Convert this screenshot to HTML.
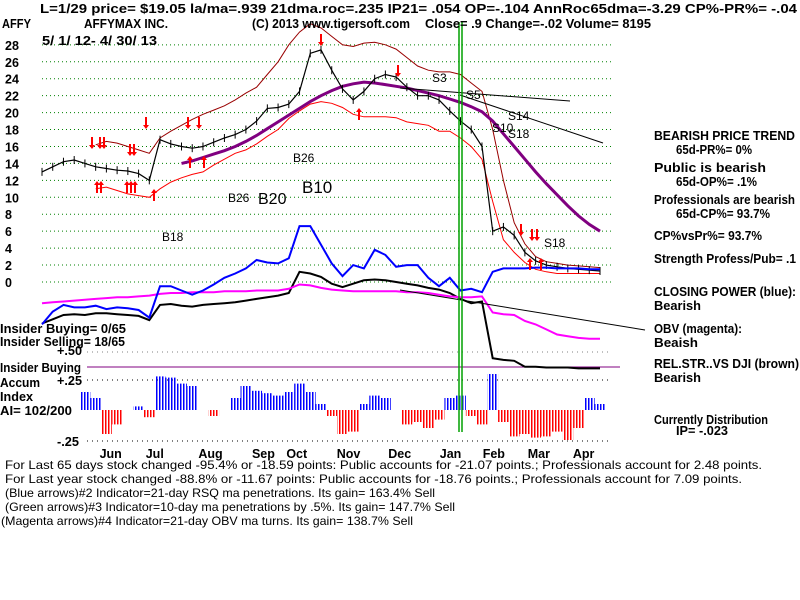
<!DOCTYPE html>
<html><head><meta charset="utf-8"><style>
html,body{margin:0;padding:0;background:#fff;}
svg{display:block;font-family:"Liberation Sans",sans-serif;}
.b{font-weight:bold;font-size:12.5px;fill:#000;}
.n{font-size:12px;fill:#000;}
</style></head><body>
<svg id="chart" width="800" height="600" viewBox="0 0 800 600" xmlns="http://www.w3.org/2000/svg">
<defs>
<pattern id="pb" width="3" height="4" patternUnits="userSpaceOnUse"><rect width="1.5" height="4" fill="#0000ff"/></pattern>
<pattern id="pr" width="3" height="4" patternUnits="userSpaceOnUse"><rect width="1.5" height="4" fill="#ff0000"/></pattern>
</defs>
<g id="grid"></g>
<g id="marks"></g>
<g>
<text class="b" x="40" y="13" textLength="757" lengthAdjust="spacingAndGlyphs">L=1/29  price= $19.05  la/ma=.939 21dma.roc=.235 IP21= .054 OP=-.104 AnnRoc65dma=-3.29 CP%-PR%= -.04</text>
<text class="b" x="2" y="28" textLength="29" lengthAdjust="spacingAndGlyphs">AFFY</text>
<text class="b" x="84" y="28" textLength="84" lengthAdjust="spacingAndGlyphs">AFFYMAX INC.</text>
<text class="b" x="252" y="28" textLength="158" lengthAdjust="spacingAndGlyphs">(C) 2013 www.tigersoft.com</text>
<text class="b" x="425" y="28" textLength="226" lengthAdjust="spacingAndGlyphs">Close=  .9  Change=-.02 Volume= 8195</text>
<text class="b" x="42" y="45" textLength="115" lengthAdjust="spacingAndGlyphs">5/ 1/ 12- 4/ 30/ 13</text>
</g>
<g>
<text class="b" x="654" y="140" textLength="141" lengthAdjust="spacingAndGlyphs">BEARISH PRICE TREND</text>
<text class="b" x="676" y="154" textLength="76" lengthAdjust="spacingAndGlyphs">65d-PR%= 0%</text>
<text class="b" x="654" y="172" textLength="112" lengthAdjust="spacingAndGlyphs">Public is bearish</text>
<text class="b" x="676" y="186" textLength="81" lengthAdjust="spacingAndGlyphs">65d-OP%= .1%</text>
<text class="b" x="654" y="204" textLength="141" lengthAdjust="spacingAndGlyphs">Professionals are bearish</text>
<text class="b" x="676" y="218" textLength="94" lengthAdjust="spacingAndGlyphs">65d-CP%= 93.7%</text>
<text class="b" x="654" y="240" textLength="108" lengthAdjust="spacingAndGlyphs">CP%vsPr%=  93.7%</text>
<text class="b" x="654" y="263" textLength="142" lengthAdjust="spacingAndGlyphs">Strength Profess/Pub= .1</text>
<text class="b" x="654" y="296" textLength="142" lengthAdjust="spacingAndGlyphs">CLOSING POWER (blue):</text>
<text class="b" x="654" y="310" textLength="47" lengthAdjust="spacingAndGlyphs">Bearish</text>
<text class="b" x="654" y="333" textLength="88" lengthAdjust="spacingAndGlyphs">OBV (magenta):</text>
<text class="b" x="654" y="347" textLength="44" lengthAdjust="spacingAndGlyphs">Beaish</text>
<text class="b" x="654" y="368" textLength="145" lengthAdjust="spacingAndGlyphs">REL.STR..VS DJI (brown)</text>
<text class="b" x="654" y="382" textLength="47" lengthAdjust="spacingAndGlyphs">Bearish</text>
<text class="b" x="654" y="424" textLength="114" lengthAdjust="spacingAndGlyphs">Currently Distribution</text>
<text class="b" x="676" y="435" textLength="52" lengthAdjust="spacingAndGlyphs">IP= -.023</text>
</g>
<g>
<text class="b" x="0" y="333" textLength="126" lengthAdjust="spacingAndGlyphs">Insider Buying= 0/65</text>
<text class="b" x="0" y="346" textLength="125" lengthAdjust="spacingAndGlyphs">Insider Selling= 18/65</text>
<text class="b" x="57" y="355" textLength="25" lengthAdjust="spacingAndGlyphs">+.50</text>
<text class="b" x="0" y="372" textLength="81" lengthAdjust="spacingAndGlyphs">Insider Buying</text>
<text class="b" x="0" y="387" textLength="40" lengthAdjust="spacingAndGlyphs">Accum</text>
<text class="b" x="0" y="401" textLength="33" lengthAdjust="spacingAndGlyphs">Index</text>
<text class="b" x="0" y="415" textLength="72" lengthAdjust="spacingAndGlyphs">AI= 102/200</text>
<text class="b" x="57" y="385" textLength="25" lengthAdjust="spacingAndGlyphs">+.25</text>
<text class="b" x="57" y="446" textLength="22" lengthAdjust="spacingAndGlyphs">-.25</text>
</g>
<g>
<text class="n" x="5" y="469" textLength="757" lengthAdjust="spacingAndGlyphs">For Last 65 days stock changed -95.4% or -18.59 points:  Public accounts for -21.07 points.;  Professionals account for  2.48 points.</text>
<text class="n" x="5" y="483" textLength="737" lengthAdjust="spacingAndGlyphs">For Last year stock changed -88.8% or -11.67 points:  Public accounts for -18.76 points.;  Professionals account for  7.09 points.</text>
<text class="n" x="5" y="497" textLength="430" lengthAdjust="spacingAndGlyphs">(Blue arrows)#2 Indicator=21-day RSQ ma penetrations. Its gain= 163.4% Sell</text>
<text class="n" x="5" y="511" textLength="450" lengthAdjust="spacingAndGlyphs">(Green arrows)#3 Indicator=10-day ma penetrations by .5%. Its gain= 147.7% Sell</text>
<text class="n" x="1" y="525" textLength="412" lengthAdjust="spacingAndGlyphs">(Magenta arrows)#4 Indicator=21-day OBV ma turns. Its gain= 138.7% Sell</text>
</g>
</svg>
<script>
const priceTicks = [28,26,24,22,20,18,16,14,12,10,8,6,4,2,0];
const months = ["Jun","Jul","Aug","Sep","Oct","Nov","Dec","Jan","Feb","Mar","Apr"];
const monthIdx = [6.3,10.6,15.5,20.5,23.7,28.4,33.2,38,42,46.2,50.4];
const price = [13.0,13.6,14.2,14.4,14.0,13.6,13.4,13.2,13.1,12.8,12.0,16.8,16.3,16.0,15.8,16.0,16.5,17.0,17.4,18.0,19.0,20.5,20.6,21.0,22.5,27.0,27.4,25.0,22.8,21.5,22.5,24.0,24.5,24.2,23.0,22.0,22.0,21.5,20.2,19.0,18.0,16.0,6.0,6.5,5.5,3.5,2.5,2.0,1.8,1.6,1.5,1.4,1.3];
const ma65 = [null,null,null,null,null,null,null,null,null,null,null,null,null,14.0,14.3,14.7,15.1,15.5,16.0,16.6,17.3,18.1,18.9,19.7,20.5,21.3,22.0,22.6,23.1,23.4,23.6,23.5,23.3,23.1,22.9,22.6,22.3,22.0,21.6,21.2,20.7,20.1,19.0,17.5,16.0,14.5,13.0,11.6,10.3,9.0,7.8,6.8,6.0];
const upperBand = [null,null,null,null,null,16.2,16.6,16.4,16.0,15.6,15.2,17.0,17.8,18.5,19.2,19.8,20.3,20.8,21.5,22.3,23.0,24.5,26.0,28.0,29.5,30.5,30.0,29.0,28.0,27.8,28.2,28.3,28.0,27.5,26.5,25.5,25.0,24.8,24.8,24.5,23.5,22.5,18.0,12.0,7.0,4.5,3.0,2.4,2.2,2.0,1.9,1.8,1.7];
const lowerBand = [null,null,null,null,null,11.0,11.2,10.8,10.4,10.2,10.0,11.0,11.8,12.3,12.7,13.0,13.8,14.5,15.2,15.6,16.3,17.2,18.0,19.3,20.2,21.0,21.3,21.1,20.6,19.8,19.5,19.5,19.5,19.4,18.9,18.7,18.5,17.8,17.8,17.0,16.0,14.5,9.5,5.0,3.5,2.3,1.5,1.2,1.0,1.0,1.0,1.0,1.0];
const cpBlue = [-5.0,-3.5,-2.7,-3.0,-3.0,-2.8,-3.2,-3.0,-3.1,-3.3,-4.2,-0.5,-0.5,-1.0,-1.5,-1.0,-0.3,0.5,1.0,1.6,2.6,2.3,2.2,2.8,6.6,6.6,4.4,2.2,0.7,2.0,1.6,3.8,3.2,1.8,2.0,2.0,0.5,-0.5,0.5,-1.0,-0.8,-1.2,1.2,1.6,1.6,1.6,1.7,1.7,1.6,1.6,1.6,1.5,1.5];
const obvMag = [-2.5,-2.4,-2.3,-2.2,-2.1,-2.0,-1.9,-1.8,-1.8,-1.7,-1.6,-1.4,-1.3,-1.3,-1.2,-1.2,-1.2,-1.1,-1.1,-1.1,-1.0,-1.0,-1.0,-0.8,-0.3,-0.4,-0.7,-0.9,-1.0,-1.1,-1.1,-1.1,-1.1,-1.1,-1.2,-1.2,-1.3,-1.5,-1.7,-1.8,-1.8,-1.7,-3.6,-3.8,-3.9,-4.6,-5.0,-5.6,-6.2,-6.4,-6.6,-6.7,-6.7];
const rsBlack = [-4.9,-4.4,-3.9,-3.8,-3.9,-3.7,-3.7,-3.8,-3.9,-4.0,-4.5,-2.7,-2.6,-2.8,-2.9,-2.7,-2.6,-2.5,-2.4,-2.2,-2.0,-1.8,-1.6,-1.3,1.2,1.0,0.6,-0.2,-0.6,-0.2,0.2,0.3,0.2,0.0,-0.2,-0.4,-0.7,-0.9,-1.3,-2.0,-2.5,-2.3,-9.0,-9.2,-9.3,-10.0,-10.0,-10.1,-10.1,-10.1,-10.2,-10.2,-10.2];
const accum = [null,null,null,null,0.15,0.1,-0.2,-0.12,0.0,0.03,-0.06,0.28,0.27,0.22,0.2,0.0,-0.05,0.0,0.1,0.2,0.16,0.14,0.12,0.15,0.22,0.15,0.05,-0.05,-0.2,-0.18,0.05,0.12,0.1,0.0,-0.12,-0.1,-0.15,-0.08,0.1,0.12,-0.05,-0.12,0.3,-0.1,-0.22,-0.2,-0.23,-0.22,-0.18,-0.25,-0.15,0.1,0.05];

const NS="http://www.w3.org/2000/svg";
const N = price.length;
const X = i => 42 + i*(600-42)/(N-1);
const Y = v => 282 - v*8.47;
const AY = v => 410 - v*120;
const grid = document.getElementById('grid');
const marks = document.getElementById('marks');
function mk(tag, attrs, parent){const e=document.createElementNS(NS,tag);for(const k in attrs)e.setAttribute(k,attrs[k]);(parent||marks).appendChild(e);return e;}
function line(arr, fy, stroke, w, dash, name){
  let d=""; let pen=false;
  arr.forEach((v,i)=>{ if(v===null){pen=false;return;} d+=(pen?"L":"M")+X(i).toFixed(1)+" "+fy(v).toFixed(1)+" "; pen=true; });
  const p = mk('path',{d:d,fill:'none',stroke:stroke,'stroke-width':w});
  if(dash) p.setAttribute('stroke-dasharray',dash);
  
  
  return p;
}
priceTicks.forEach(t=>{
  const g = mk('line',{x1:42,x2:612,y1:Y(t),y2:Y(t),stroke:'#008000','stroke-width':1,'stroke-dasharray':'1 3'},grid);
  
  
  const tx = mk('text',{x:5,y:Y(t)+5,class:'b'},grid);
  tx.textContent = t;
  
  
});
[[352,'#808080'],[380,'#000'],[441,'#000']].forEach(r=>{
  const g = mk('line',{x1:87,x2:612,y1:r[0],y2:r[0],stroke:r[1],'stroke-dasharray':'1 4'},grid);
  
  
});
const ib = mk('line',{x1:87,x2:620,y1:367,y2:367,stroke:'#800080','stroke-width':1},grid);


months.forEach((m,k)=>{
  const t = mk('text',{x:X(monthIdx[k])-10,y:458,class:'b'});
  t.textContent = m;
  
  
});
const step = (600-42)/(N-1);
accum.forEach((v,i)=>{
  if(v===null) return;
  const r = mk('rect',{x:X(i)-step/2,width:step,y:Math.min(AY(v),410),height:Math.abs(AY(v)-410),fill:v>=0?'url(#pb)':'url(#pr)'});
  
  
});
line(upperBand, Y, '#990000', 1, null, 'upper-band');
line(lowerBand, Y, '#ff0000', 1, null, 'lower-band');
line(ma65, Y, '#800080', 3, null, 'ma65-line');
line(price, Y, '#000', 1.2, null, 'price-line');
price.forEach((v,i)=>{
  const t = mk('line',{x1:X(i),x2:X(i),y1:Y(v)-4,y2:Y(v)+4,stroke:'#000','stroke-width':1});
  
  
});
line(rsBlack, Y, '#000', 2, null, 'relative-strength-line');
line(obvMag, Y, '#ff00ff', 2, null, 'obv-line');
line(cpBlue, Y, '#0000ff', 2, null, 'closing-power-line');
[[400,88,570,101],[460,95,603,143],[400,290,645,330]].forEach(s=>{
  const l = mk('line',{x1:s[0],y1:s[1],x2:s[2],y2:s[3],stroke:'#000','stroke-width':1});
  
  
});
[459,462].forEach(x=>{
  const l = mk('line',{x1:x,x2:x,y1:22,y2:432,stroke:'#00a000','stroke-width':1.5});
  
  
});
[["B26",228,202,12],["B20",258,204,16],["B10",302,193,17],["B26",293,162,12],["B18",162,241,12],["S3",432,82,12],["S5",466,99,12],["S14",508,120,12],["S10",492,132,12],["S18",508,138,12],["S18",544,247,12]].forEach(s=>{
  const t = mk('text',{x:s[1],y:s[2],'font-size':s[3],fill:'#000'});
  t.textContent = s[0];
  
  
});
[[92,145,1],[100,145,1],[104,145,1],[130,152,1],[134,152,1],[146,125,1],[188,125,1],[199,125,1],[321,42,1],[398,73,1],[521,232,1],[532,237,1],[537,237,1],[97,185,-1],[101,185,-1],[127,185,-1],[131,185,-1],[135,185,-1],[154,193,-1],[190,160,-1],[204,160,-1],[359,112,-1],[530,262,-1],[541,262,-1]].forEach(a=>{
  const x=a[0], y=a[1], d=a[2];
  const p = mk('path',{d:`M${x-1} ${y-d*8} L${x+1} ${y-d*8} L${x+1} ${y} L${x+3} ${y} L${x} ${y+d*4} L${x-3} ${y} L${x-1} ${y} Z`,fill:'#ff0000'});
  
  
});
</script>
</body></html>
